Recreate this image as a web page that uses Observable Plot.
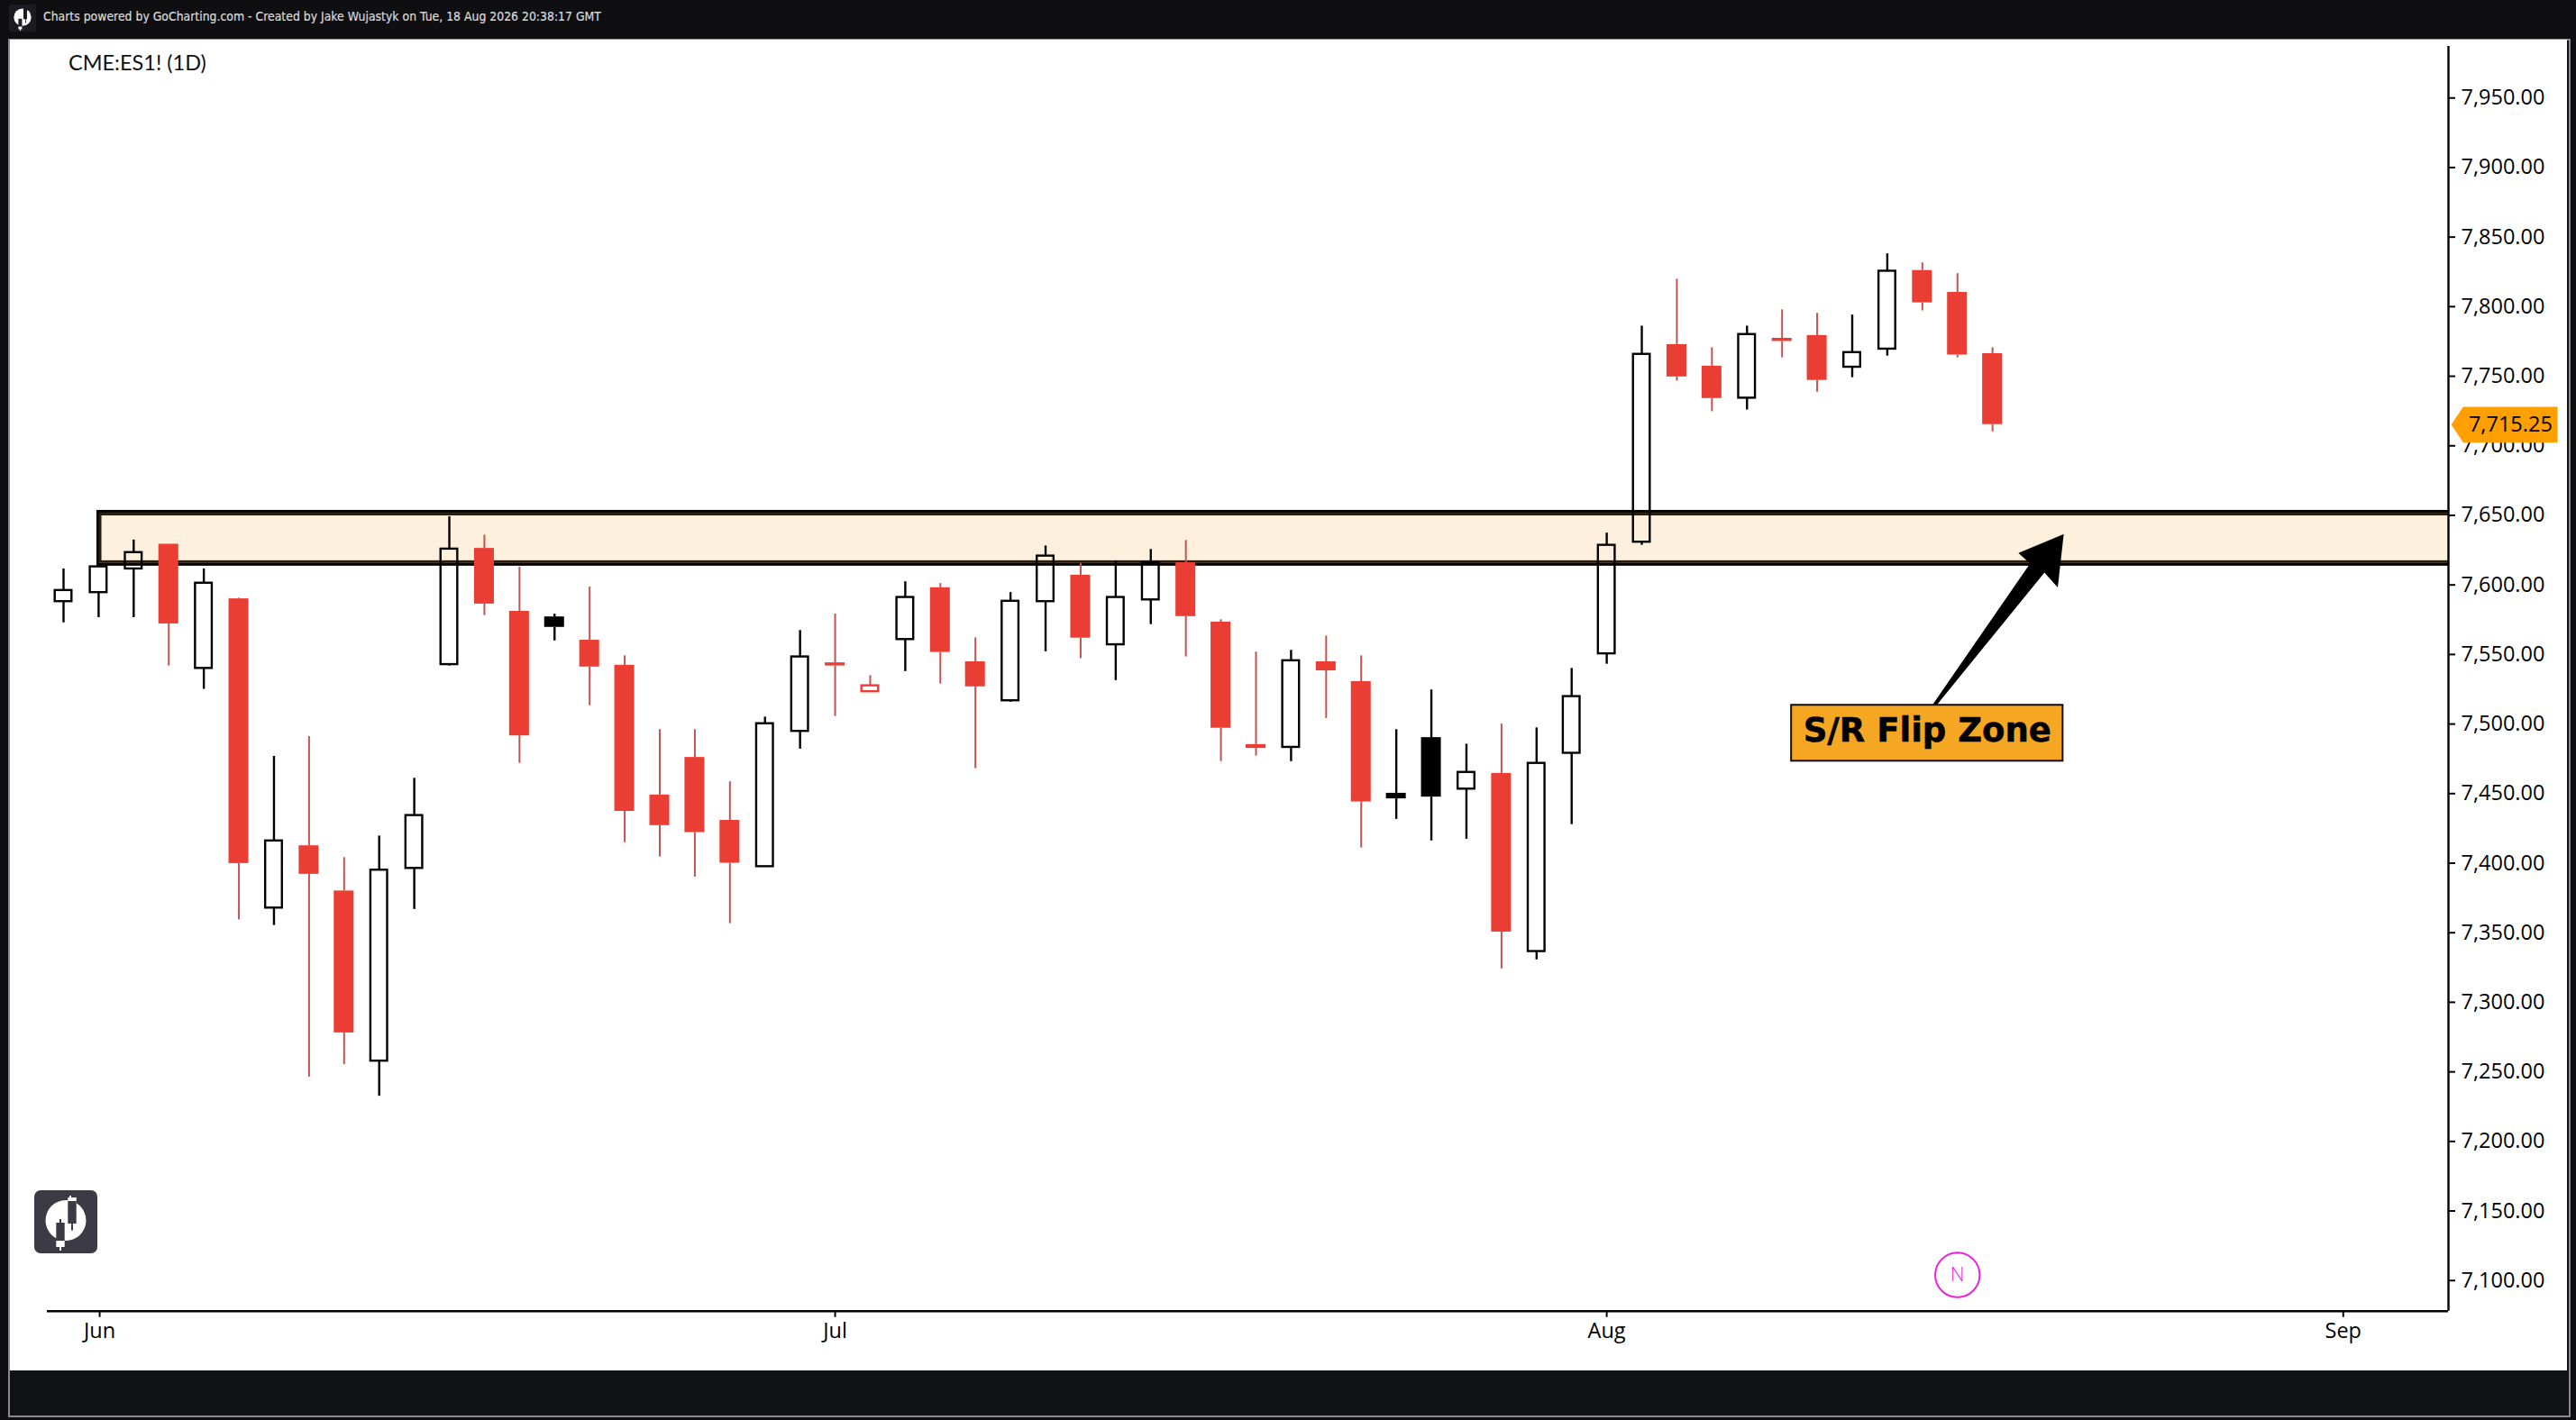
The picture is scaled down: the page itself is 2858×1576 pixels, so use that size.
<!DOCTYPE html>
<html><head><meta charset="utf-8">
<script src="https://cdn.jsdelivr.net/npm/d3@7"></script>
<script src="https://cdn.jsdelivr.net/npm/@observablehq/plot@0.6"></script>
<style>
html,body{margin:0;padding:0;background:#0f0f12;width:2858px;height:1576px;overflow:hidden}
#frame{position:absolute;left:9px;top:43px;width:2839px;height:1526px;border:2px solid #8a8a8a;background:#111215;box-sizing:content-box}
#plotbox{position:absolute;left:11px;top:44px;width:2837px;height:1477px;background:#fff}
#plotbox svg{display:block;background:#fff}
#head{position:absolute;left:48px;top:10px;color:#dcdcdc;font:14px "DejaVu Sans";-webkit-text-stroke:.2px #dcdcdc;white-space:nowrap;transform-origin:0 0;transform:scaleX(.89)}
#sym{position:absolute;left:76px;top:55px;color:#111;font:400 23.500px Lato,"Open Sans";white-space:nowrap}
.logo{position:absolute}
</style></head><body>
<div id="frame"></div>
<div id="plotbox"></div>
<div id="head">Charts powered by GoCharting.com - Created by Jake Wujastyk on Tue, 18 Aug 2026 20:38:17 GMT</div>
<div id="sym">CME:ES1! (1D)</div>
<svg class="logo" style="left:10px;top:5px" width="30" height="30" viewBox="0 0 70 70">
  <rect width="70" height="70" rx="7" fill="#1b1b22"/>
  <circle cx="35" cy="33" r="22.5" fill="#fff"/>
  <path d="M37.3 8h9.4v30h-2.6v10h-2v-10h-4.800z" fill="#1b1b22"/><path d="M24.300 37h9.400v20h-9.400z" fill="#1b1b22"/><path d="M24.300 57h9.400v7h-3.700v4h-2v-4h-3.700z" fill="#fff"/>
</svg>
<svg class="logo" style="left:38px;top:1320.700px" width="70" height="70" viewBox="0 0 70 70">
  <rect width="70" height="70" rx="7" fill="#3c3b45"/>
  <circle cx="35" cy="33.500" r="22.500" fill="#fff"/>
  <rect x="39" y="6" width="2" height="6" fill="#fff"/>
  <rect x="37.300" y="8" width="9.400" height="7" fill="#fff"/>
  <rect x="37.300" y="12" width="9.400" height="25" fill="#3c3b45"/>
  <rect x="41" y="37" width="2" height="7.500" fill="#3c3b45"/>
  <rect x="28" y="32" width="2" height="5" fill="#3c3b45"/>
  <rect x="24.300" y="36" width="9.400" height="20" fill="#3c3b45"/>
  <rect x="24.300" y="56" width="9.400" height="7" fill="#fff"/>
  <rect x="28" y="63" width="2" height="4" fill="#fff"/>
</svg>
<script>
const opens=[7588,7594.5,7611.5,7629.25,7540,7590,7367.75,7412.5,7380,7257.75,7396.25,7542.75,7626.25,7581,7577,7560.25,7542.25,7449,7476,7430.75,7397.5,7494.75,7544,7523.25,7560.75,7598,7544.75,7516.75,7588,7607,7557,7589.25,7616,7573.25,7485.25,7483.25,7544.75,7530.5,7450.25,7490.25,7453.25,7464.5,7336.5,7479,7550.5,7630.75,7772.75,7757.25,7734.25,7777.25,7779.25,7756.5,7769.5,7826,7810.25,7766.25];
const highs=[7611.5,7613.25,7632.25,7629.25,7611.5,7590.5,7476.75,7491,7404,7419.5,7461,7649,7635.75,7612.75,7579,7598.5,7549,7496,7496,7458.5,7505,7567.25,7579,7534.75,7602.25,7601,7562,7594.5,7628,7615.5,7617.25,7625.5,7632,7575,7551.75,7553,7563.25,7549,7496,7524.5,7485.5,7500,7497.25,7540,7637.25,7786,7819.75,7770.5,7786,7797.75,7795.25,7794,7838,7831.5,7823.75,7770.5];
const lows=[7572.75,7576.5,7576.5,7541.75,7525,7359.25,7355.25,7246.25,7255.25,7232.5,7366.75,7541.75,7578,7471.75,7559.75,7513.25,7414.75,7404.5,7390,7356.5,7397.25,7482,7505.5,7523.25,7537.75,7528.75,7468,7515.75,7552,7547,7531.25,7571.5,7548.25,7473,7477,7473,7504,7411,7431.5,7416,7417.25,7324,7330.5,7427.75,7543,7628.5,7746.5,7724.5,7725.75,7763.25,7738.5,7749,7764.5,7797,7763.25,7710];
const closes=[7596,7613,7623.25,7572,7601.25,7399.75,7416,7392,7278,7395,7434.25,7625.75,7586.25,7491.5,7569.5,7541,7437.25,7427,7422,7400,7500.25,7548.25,7541.75,7527.5,7591,7551.5,7526.75,7588.25,7620.75,7561.75,7591,7616,7577.25,7497,7482.5,7545.5,7538.25,7444,7446.25,7447.5,7465.25,7350.5,7471.75,7519.75,7628.5,7765.75,7749.5,7734,7780,7775,7747,7767,7825.5,7802.75,7765.25,7715.25];

const monthTicks=[1.03,22,44,65];
const monthLabels=["Jun","Jul","Aug","Sep"];
const priceTicks=d3.range(7100,7951,50);
const zoneOuter={x1:0.989,x2:72,y1:7614.45,y2:7652.6};
const zoneInner={x1:1.054,x2:72,y1:7616.4,y2:7650.6};
const lastPrice=7715.25;
const arrowX=[57.03,55.74,56.07,53.28,53.41,56.48,56.86];
const arrowY=[7636.5,7622.9,7615.3,7513.5,7513.7,7608.9,7598.1];
const tagX=[68.08,68.42,71.11,71.11,68.42];
const tagY=[7715.25,7728,7728,7702.3,7702.3];
const RED="#ea3d33", WICKRED="#c2544f";

const candles=opens.map((o,i)=>{
  const c=closes[i], prev=i?closes[i-1]:o;
  return {i,open:o,close:c,high:highs[i],low:lows[i],
    top:Math.max(o,c),bot:Math.min(o,c),
    hollow:c>=o, color:c>=prev?"#000":RED, wick:c>=prev?"#000":WICKRED};
});
const hollow=candles.filter(d=>d.hollow), filled=candles.filter(d=>!d.hollow);
const arrow=arrowX.map((x,k)=>({x,y:arrowY[k]}));
const tag=tagX.map((x,k)=>({x,y:tagY[k]}));
const FONT='"Open Sans"';

const chart=Plot.plot({
  width:2837,height:1477,marginLeft:41,marginRight:132,marginTop:0,marginBottom:66.3,
  style:{background:"#fff",fontFamily:FONT,overflow:"visible"},
  x:{type:"linear",domain:[-0.4626,68]},
  y:{domain:[7078,7991.6]},
  marks:[
    Plot.rect([zoneOuter],{x1:"x1",x2:"x2",y1:"y1",y2:"y2",fill:"#fdf0dc",stroke:"#000",strokeWidth:3,clip:"frame"}),
    Plot.rect([zoneInner],{x1:"x1",x2:"x2",y1:"y1",y2:"y2",fill:"none",stroke:"#2a1c0b",strokeWidth:3,clip:"frame"}),
    Plot.ruleX(candles,{x:"i",y1:"high",y2:"top",stroke:"wick",strokeWidth:d=>d.wick==="#000"?2.4:2}),
    Plot.ruleX(candles,{x:"i",y1:"bot",y2:"low",stroke:"wick",strokeWidth:d=>d.wick==="#000"?2.4:2}),
    Plot.rect(filled,{x1:d=>d.i-0.283,x2:d=>d.i+0.283,y1:"bot",y2:"top",fill:"color"}),
    Plot.rect(hollow,{x1:d=>d.i-0.239,x2:d=>d.i+0.239,y1:"bot",y2:"top",fill:"none",stroke:"color",strokeWidth:2.4}),
    Plot.line(arrow,{x:"x",y:"y",fill:"#000",stroke:"none"}),
    Plot.rect([0],{x1:49.27,x2:57.01,y1:7473.3,y2:7513.5,fill:"#f5a623",stroke:"#140c02",strokeWidth:2}),
    Plot.text(["S/R Flip Zone"],{x:53.14,y:7495,text:d=>d,fontFamily:"DejaVu Sans",fontWeight:"bold",fontSize:37,fill:"#000",stroke:"#000",strokeWidth:0.5}),
    Plot.dot([0],{x:54,y:7104,r:24.7,stroke:"#ee1ee0",strokeWidth:2,fill:"none"}),
    Plot.text(["N"],{x:54,y:7104,text:d=>d,fontSize:22,fontWeight:300,fill:"#ee1ee0"}),
    Plot.ruleX([68],{y1:7078,y2:7987,stroke:"#000",strokeWidth:2.4}),
    Plot.ruleY([7078],{stroke:"#000",strokeWidth:2.4}),
    Plot.axisY({anchor:"right",ticks:priceTicks,tickFormat:d3.format(",.2f"),tickSize:7,tickPadding:7,fontSize:23.500,label:null,strokeWidth:2,stroke:"#000",fill:"#000"}),
    Plot.axisX({anchor:"bottom",ticks:monthTicks,tickFormat:d=>monthLabels[monthTicks.indexOf(d)],tickSize:7,tickPadding:6,fontSize:23.500,label:null,strokeWidth:2,stroke:"#000",fill:"#000"}),
    Plot.line(tag,{x:"x",y:"y",fill:"#ffa000",stroke:"none"}),
    Plot.text([lastPrice],{x:69.77,y:lastPrice,text:d3.format(",.2f"),fontSize:23.500,fill:"#000"})
  ]
});
document.getElementById("plotbox").appendChild(chart);
</script>
</body></html>
